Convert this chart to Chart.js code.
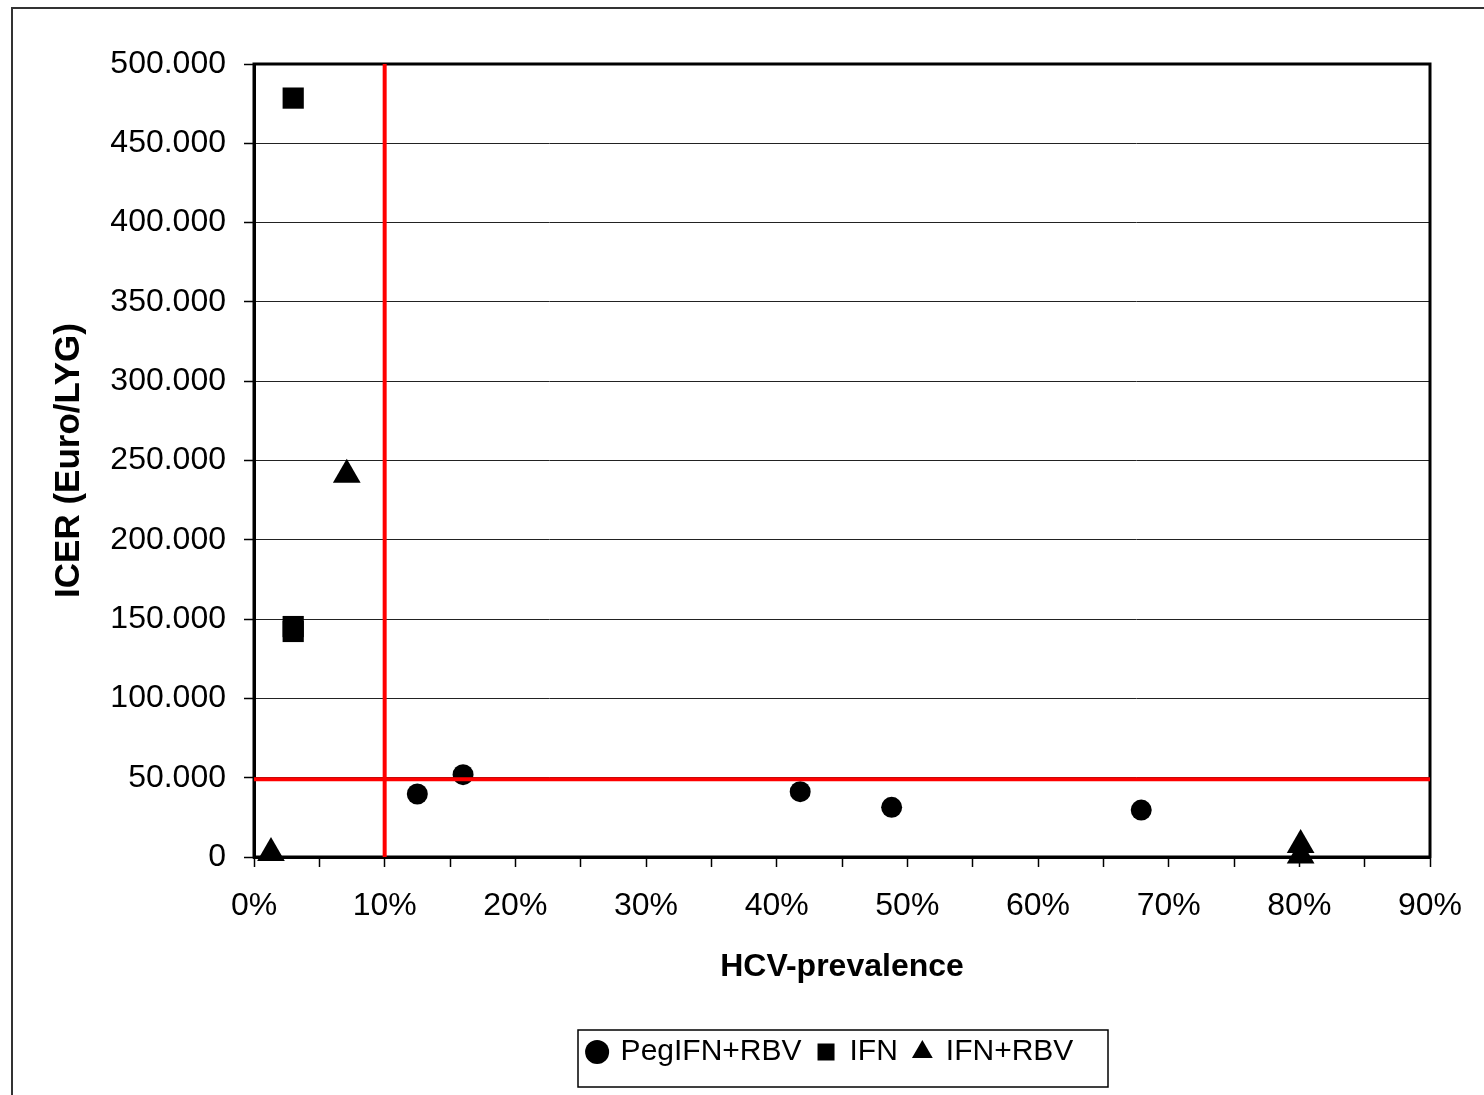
<!DOCTYPE html>
<html lang="de">
<head>
<meta charset="utf-8">
<title>ICER vs. HCV-Prävalenz</title>
<style>
  html, body { margin: 0; padding: 0; background: #fff; }
  #chart { display: block; }
</style>
</head>
<body>
<canvas id="chart" width="1484" height="1095"></canvas>
<script src="https://cdn.jsdelivr.net/npm/chart.js@4/dist/chart.umd.min.js"></script>
<script>
// Werte
const pegX = [0.125, 0.160, 0.418, 0.488, 0.679];
const pegY = [39700, 51900, 41200, 31300, 29600];
const ifnX = [0.030, 0.030, 0.030];
const ifnY = [478500, 145300, 142200];
const ifnRbvX = [0.013, 0.071, 0.801, 0.801];
const ifnRbvY = [2500, 241000, 7600, 1000];
const seriesNames = ['PegIFN+RBV', 'IFN', 'IFN+RBV'];

// rote Schwellenlinien
const prevCut = 0.10;
const icerCut = 49000;

const xMin = 0, xMax = 0.9, xStep = 0.05;
const yMin = 0, yMax = 500000, yStep = 50000;

const pts = (xs, ys) => xs.map((x, i) => ({ x: x, y: ys[i] }));
const fmtDe = v => String(v).replace(/\B(?=(\d{3})+(?!\d))/g, '.');

Chart.defaults.font.family = "'Liberation Sans', Arial, sans-serif";
Chart.defaults.color = '#000';

// Rahmen, Plotrahmen, Legendenkasten
const frame = {
  id: 'frame',
  afterLayout(chart) {
    // Legende etwas nach rechts schieben (wie im Original)
    chart.legend.left += 106;
    chart.legend.right += 106;
  },
  beforeDraw(chart) {
    const c = chart.ctx;
    c.save();
    c.fillStyle = '#fff';
    c.fillRect(0, 0, chart.width, chart.height);
    c.strokeStyle = '#333';
    c.lineWidth = 2;
    c.strokeRect(12, 8, chart.width + 20, chart.height + 20);
    c.restore();
  },
  beforeDatasetsDraw(chart) {
    const a = chart.chartArea, c = chart.ctx;
    c.save();
    c.strokeStyle = '#000';
    c.lineWidth = 3;
    c.strokeRect(a.left, a.top, a.right - a.left, a.bottom - a.top);
    c.restore();
  },
  afterDraw(chart) {
    const c = chart.ctx;
    c.save();
    c.strokeStyle = '#000';
    c.lineWidth = 1.5;
    c.strokeRect(578, 1030, 530, 57);
    c.restore();
  }
};

const LEG_PAD = 16, PAD_BOTTOM = 18;

new Chart(document.getElementById('chart'), {
  type: 'scatter',
  data: {
    datasets: [
      { label: seriesNames[0], data: pts(pegX, pegY), pointStyle: 'circle', pointRadius: 10.5,
        backgroundColor: '#000', borderColor: '#000', borderWidth: 0, clip: false, order: 1 },
      { label: seriesNames[1], data: pts(ifnX, ifnY), pointStyle: 'rect', pointRadius: 15,
        backgroundColor: '#000', borderColor: '#000', borderWidth: 0, clip: false, order: 1 },
      { label: seriesNames[2], data: pts(ifnRbvX, ifnRbvY), pointStyle: 'triangle', pointRadius: 16,
        backgroundColor: '#000', borderColor: '#000', borderWidth: 0, clip: false, order: 1 },
      { label: 'cutPrev', type: 'line', data: [{ x: prevCut, y: yMin }, { x: prevCut, y: yMax }],
        borderColor: '#ff0000', borderWidth: 4, pointRadius: 0, order: -1 },
      { label: 'cutIcer', type: 'line', data: [{ x: xMin, y: icerCut }, { x: xMax, y: icerCut }],
        borderColor: '#ff0000', borderWidth: 4, pointRadius: 0, order: -1 }
    ]
  },
  options: {
    responsive: false,
    animation: false,
    layout: { padding: { left: 20, top: 64, right: 54, bottom: PAD_BOTTOM } },
    plugins: {
      tooltip: { enabled: false },
      legend: {
        position: 'bottom',
        labels: {
          usePointStyle: true,
          boxWidth: 17,
          boxHeight: 17,
          padding: LEG_PAD,
          color: '#000',
          font: { size: 30 },
          filter: item => item.datasetIndex < 3
        }
      }
    },
    scales: {
      x: {
        type: 'linear',
        min: xMin, max: xMax,
        afterFit: s => {
          s.height = s.chart.height - 857 - s.chart.legend.height - PAD_BOTTOM;
        },
        border: { color: '#000', width: 3 },
        grid: { drawOnChartArea: false, drawTicks: true, tickLength: 10, tickColor: '#000', tickWidth: 1.5 },
        ticks: {
          stepSize: xStep, autoSkip: false, maxRotation: 0, padding: 20,
          font: { size: 32 }, color: '#000',
          callback: v => { const p = Math.round(v * 100); return p % 10 === 0 ? p + '%' : ''; }
        },
        title: { display: true, text: 'HCV-prevalence', color: '#000',
          font: { size: 32, weight: 'bold' }, padding: { top: 0, bottom: 35 } }
      },
      y: {
        min: yMin, max: yMax,
        afterFit: s => { s.width = 254 - 20; },
        border: { color: '#000', width: 3 },
        grid: { color: '#222', lineWidth: 1, drawTicks: true, tickLength: 10, tickColor: '#000', tickWidth: 1.5 },
        ticks: { stepSize: yStep, padding: 18, font: { size: 32 }, color: '#000', callback: v => fmtDe(v) },
        title: { display: true, text: 'ICER (Euro/LYG)', color: '#000',
          font: { size: 35, weight: 'bold' }, padding: { top: 28, bottom: 0 } }
      }
    }
  },
  plugins: [frame]
});
</script>
</body>
</html>
